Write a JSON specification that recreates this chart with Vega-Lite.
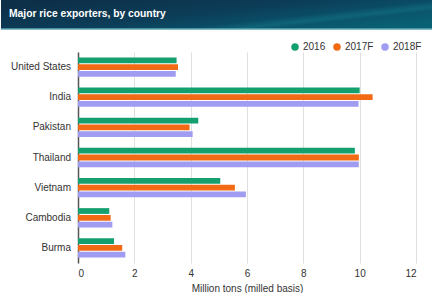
{
  "$schema": "https://vega.github.io/schema/vega-lite/v6.json",
  "padding": 0,
  "columns": 1,
  "spacing": 22,
  "align": "none",
  "background": "#ffffff",
  "config": {
    "font": "Liberation Sans",
    "view": {"stroke": null}
  },
  "datasets": {
    "exports": [
      {"country": "United States", "year": "2016", "tons": 3.5},
      {"country": "United States", "year": "2017F", "tons": 3.55},
      {"country": "United States", "year": "2018F", "tons": 3.47},
      {"country": "India", "year": "2016", "tons": 10.0},
      {"country": "India", "year": "2017F", "tons": 10.46},
      {"country": "India", "year": "2018F", "tons": 9.96},
      {"country": "Pakistan", "year": "2016", "tons": 4.27},
      {"country": "Pakistan", "year": "2017F", "tons": 3.96},
      {"country": "Pakistan", "year": "2018F", "tons": 4.07},
      {"country": "Thailand", "year": "2016", "tons": 9.83},
      {"country": "Thailand", "year": "2017F", "tons": 9.97},
      {"country": "Thailand", "year": "2018F", "tons": 9.97},
      {"country": "Vietnam", "year": "2016", "tons": 5.05},
      {"country": "Vietnam", "year": "2017F", "tons": 5.57},
      {"country": "Vietnam", "year": "2018F", "tons": 5.96},
      {"country": "Cambodia", "year": "2016", "tons": 1.11},
      {"country": "Cambodia", "year": "2017F", "tons": 1.16},
      {"country": "Cambodia", "year": "2018F", "tons": 1.22},
      {"country": "Burma", "year": "2016", "tons": 1.28},
      {"country": "Burma", "year": "2017F", "tons": 1.57},
      {"country": "Burma", "year": "2018F", "tons": 1.68}
    ]
  },
  "concat": [
    {
      "width": 432,
      "height": 29,
      "data": {"values": [{"title": "Major rice exporters, by country"}]},
      "layer": [
        {
          "mark": {
            "type": "rect",
            "color": {
              "gradient": "linear",
              "x1": 0, "y1": 0.2, "x2": 1, "y2": 0.8,
              "stops": [
                {"offset": 0, "color": "#0d2f48"},
                {"offset": 0.45, "color": "#0c3d58"},
                {"offset": 0.66, "color": "#0a4c65"},
                {"offset": 0.75, "color": "#0f6478"},
                {"offset": 0.81, "color": "#0a566b"},
                {"offset": 1, "color": "#096175"}
              ]
            }
          },
          "encoding": {
            "x": {"value": 0},
            "x2": {"value": "width"},
            "y": {"value": 0},
            "y2": {"value": "height"}
          }
        },
        {
          "mark": {"type": "rule", "color": "#5fa9b3", "strokeWidth": 1.5},
          "encoding": {
            "x": {"value": 0},
            "x2": {"value": "width"},
            "y": {"value": "height"}
          }
        },
        {
          "mark": {
            "type": "text",
            "align": "left",
            "baseline": "middle",
            "color": "#ffffff",
            "fontWeight": "bold",
            "fontSize": 10.3,
            "font": "Liberation Sans"
          },
          "encoding": {
            "text": {"field": "title"},
            "x": {"value": 8},
            "y": {"value": 14}
          }
        }
      ]
    },
    {
      "spacing": 7,
      "hconcat": [
        {
          "width": 70,
          "height": 211,
          "data": {"name": "exports"},
          "transform": [{"aggregate": [], "groupby": ["country"]}],
          "mark": {
            "type": "text",
            "align": "right",
            "baseline": "middle",
            "fontSize": 10,
            "color": "#333333",
            "font": "Liberation Sans"
          },
          "encoding": {
            "y": {
              "field": "country",
              "type": "nominal",
              "sort": ["United States", "India", "Pakistan", "Thailand", "Vietnam", "Cambodia", "Burma"],
              "scale": {"paddingInner": 0.36, "paddingOuter": 0.18},
              "axis": null
            },
            "x": {"value": "width"},
            "text": {"field": "country"}
          }
        },
        {
          "width": 338,
          "height": 211,
          "data": {"name": "exports"},
          "mark": {"type": "bar", "cornerRadius": 0},
          "encoding": {
            "y": {
              "field": "country",
              "type": "nominal",
              "sort": ["United States", "India", "Pakistan", "Thailand", "Vietnam", "Cambodia", "Burma"],
              "scale": {"paddingInner": 0.36, "paddingOuter": 0.18},
              "axis": {
                "title": null,
                "labels": false,
                "domain": true,
                "domainColor": "#555555",
                "domainWidth": 1.5,
                "ticks": false,
                "grid": false
              }
            },
            "yOffset": {
              "field": "year",
              "type": "nominal",
              "scale": {"paddingInner": 0.15, "paddingOuter": 0}
            },
            "x": {
              "field": "tons",
              "type": "quantitative",
              "scale": {"domain": [0, 12], "nice": false},
              "axis": {
                "title": "Million tons (milled basis)",
                "titleFont": "Liberation Sans",
                "titleFontWeight": "normal",
                "titleFontSize": 10,
                "titleColor": "#333333",
                "titlePadding": 5,
                "values": [0, 2, 4, 6, 8, 10, 12],
                "domain": false,
                "ticks": false,
                "grid": true,
                "gridColor": "#e0e0e0",
                "gridWidth": 1,
                "labelFontSize": 10,
                "labelColor": "#333333",
                "labelFont": "Liberation Sans",
                "labelPadding": 5
              }
            },
            "color": {
              "field": "year",
              "type": "nominal",
              "scale": {
                "domain": ["2016", "2017F", "2018F"],
                "range": ["#14a06e", "#f26b14", "#9f9cf2"]
              },
              "legend": {
                "title": null,
                "orient": "none",
                "direction": "horizontal",
                "legendX": 289,
                "legendY": 42,
                "symbolType": "circle",
                "symbolSize": 56,
                "symbolStrokeWidth": 0,
                "labelFontSize": 10,
                "labelColor": "#333333",
                "labelFont": "Liberation Sans",
                "labelOffset": 3,
                "columnPadding": 6
              }
            }
          }
        }
      ]
    }
  ]
}
